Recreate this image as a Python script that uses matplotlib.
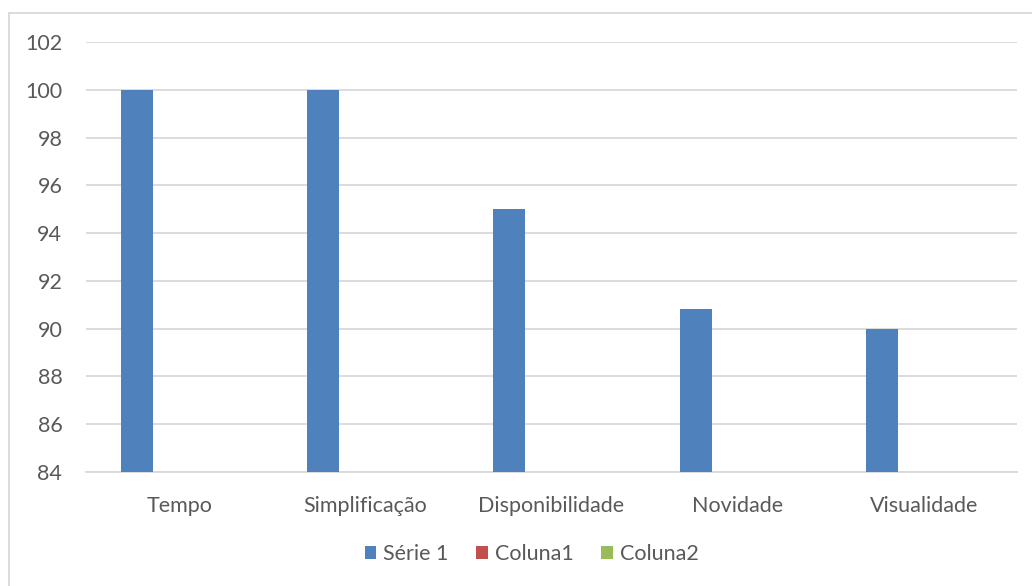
import numpy as np
import matplotlib.pyplot as plt
from matplotlib.lines import Line2D

categories = ['Tempo', 'Simplificação', 'Disponibilidade', 'Novidade', 'Visualidade']
serie1 = [100, 100, 95, 90.83, 90]
coluna1 = [np.nan] * 5
coluna2 = [np.nan] * 5
series_names = ['Série 1', 'Coluna1', 'Coluna2']
yticks = [84, 86, 88, 90, 92, 94, 96, 98, 100, 102]

colors = ['#4f81bd', '#c0504d', '#9bbb59']
text_col = '#595959'
grid_col = '#d9d9d9'

plt.rcParams['font.family'] = ['Lato', 'DejaVu Sans']

fig = plt.figure(figsize=(10.32, 5.86), dpi=100)
ax = fig.add_axes([0.0833, 0.1945, 0.9022, 0.7338])

x = np.arange(len(categories))
w = 0.172
start = -0.226
for k, (vals, name) in enumerate(zip([serie1, coluna1, coluna2], series_names)):
    ax.bar(x + start + k * w, vals, width=w, color=colors[k], label=name, zorder=3)

ax.set_xlim(-0.5, len(categories) - 0.5)
ax.set_ylim(84, 102)
ax.set_yticks(yticks)
ax.set_xticks(x)
ax.set_xticklabels(categories)
ax.tick_params(axis='both', length=0, labelsize=15.5, colors=text_col)
ax.tick_params(axis='y', pad=17)
ax.tick_params(axis='x', pad=17)
ax.yaxis.grid(True, color=grid_col, linewidth=1.3, zorder=0)
for s in ['top', 'right', 'left']:
    ax.spines[s].set_visible(False)
ax.spines['bottom'].set_color(grid_col)
ax.spines['bottom'].set_linewidth(1.3)

leg = ax.legend(loc='center', bbox_to_anchor=(0.515, 0.054), bbox_transform=fig.transFigure,
                ncol=3, frameon=False, fontsize=15.5, handlelength=0.55, handleheight=0.55,
                handletextpad=0.3, columnspacing=1.3)
for t in leg.get_texts():
    t.set_color(text_col)

# chart frame (left and top edges visible)
fig.add_artist(Line2D([9 / 1032, 9 / 1032], [0, 1 - 13 / 586], transform=fig.transFigure,
                      color=grid_col, linewidth=1.3))
fig.add_artist(Line2D([9 / 1032, 1], [1 - 13 / 586, 1 - 13 / 586], transform=fig.transFigure,
                      color=grid_col, linewidth=1.3))

fig.savefig('out.png', dpi=100, facecolor='white')
